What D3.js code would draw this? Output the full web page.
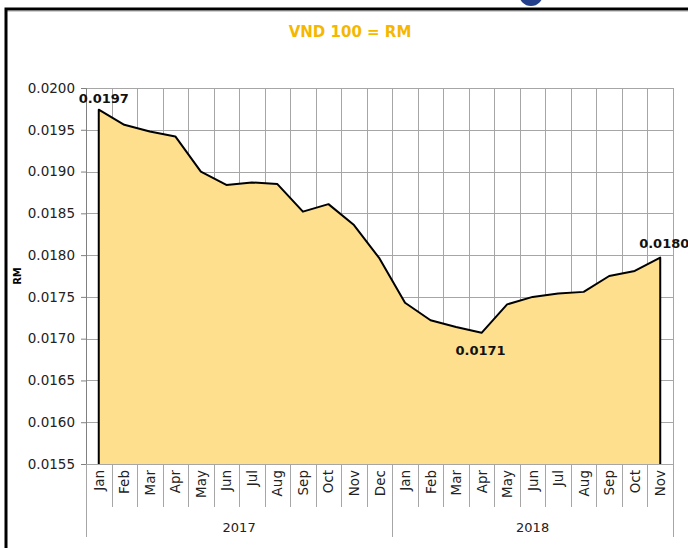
<!DOCTYPE html>
<meta charset="utf-8">
<style>
  body { margin: 0; background: #fff; }
  svg text { font-family: "DejaVu Sans", sans-serif; }
  .grid line { stroke: #a6a6a6; stroke-width: 1; shape-rendering: crispEdges; }
</style>
<body>
<div id="chart"></div>
<script src="https://d3js.org/d3.v7.min.js"></script>
<script>
// months per year and the rate (RM per VND 100)
var years = ["2017", "2018"];
var months2017 = ["Jan","Feb","Mar","Apr","May","Jun","Jul","Aug","Sep","Oct","Nov","Dec"];
var months2018 = ["Jan","Feb","Mar","Apr","May","Jun","Jul","Aug","Sep","Oct","Nov"];
var values = [0.01974, 0.01956, 0.01948, 0.01942, 0.01900, 0.01884, 0.01887, 0.01885, 0.01852, 0.01861, 0.01836, 0.01796,
              0.01743, 0.01722, 0.01714, 0.01707, 0.01741, 0.01750, 0.01754, 0.01756, 0.01775, 0.01781, 0.01797];
var yTicks = [0.0155, 0.0160, 0.0165, 0.0170, 0.0175, 0.0180, 0.0185, 0.0190, 0.0195, 0.0200];
var labelled = [0, 15, 22]; // indexes that get a value label

var width = 688, height = 548;
var pLeft = 86, pRight = 673, pTop = 88, pBottom = 464;

var cats = months2017.map(function(m) { return "2017-" + m; })
  .concat(months2018.map(function(m) { return "2018-" + m; }));
var data = cats.map(function(c, i) { return { key: c, month: c.slice(5), year: c.slice(0, 4), v: values[i] }; });

var svg = d3.select("#chart").append("svg")
    .attr("width", width)
    .attr("height", height);

// frame + logo ring peeking in at the top
svg.append("circle").attr("cx", 531).attr("cy", -6).attr("r", 12).attr("fill", "#233f8c");
svg.append("circle").attr("cx", 531).attr("cy", -8).attr("r", 5).attr("fill", "#fff");
svg.append("line").attr("x1", 6).attr("x2", 688).attr("y1", 11.5).attr("y2", 11.5)
    .attr("stroke", "#d0d0d0");
svg.append("path")
    .attr("d", "M6,548 V9 H688")
    .attr("fill", "none")
    .attr("stroke", "#000")
    .attr("stroke-width", 3);

var x = d3.scaleBand().domain(cats).range([pLeft, pRight]);
var y = d3.scaleLinear().domain([0.0155, 0.0200]).range([pBottom, pTop]);

// grid
var grid = svg.append("g").attr("class", "grid");
grid.selectAll(".h").data(yTicks).enter().append("line")
    .attr("x1", pLeft).attr("x2", pRight)
    .attr("y1", function(d) { return Math.round(y(d)) + 0.5; })
    .attr("y2", function(d) { return Math.round(y(d)) + 0.5; });
grid.selectAll(".v").data(cats).enter().append("line")
    .attr("x1", function(d) { return Math.round(x(d) + x.bandwidth()) + 0.5; })
    .attr("x2", function(d) { return Math.round(x(d) + x.bandwidth()) + 0.5; })
    .attr("y1", pTop).attr("y2", pBottom);

// area
var cx = function(d) { return x(d.key) + x.bandwidth() / 2; };
var area = d3.area().x(cx).y0(y(0.0155)).y1(function(d) { return y(d.v); });
var line = d3.line().x(cx).y(function(d) { return y(d.v); });

svg.append("path").datum(data)
    .attr("d", area)
    .attr("fill", "#fddf8e");

var first = data[0], last = data[data.length - 1];
svg.append("path")
    .attr("d", "M" + cx(first) + "," + y(0.0155) + line(data).replace("M", "L") + "L" + cx(last) + "," + y(0.0155))
    .attr("fill", "none")
    .attr("stroke", "#000")
    .attr("stroke-width", 2)
    .attr("stroke-linejoin", "round");

// y axis
var yAxis = svg.append("g")
    .attr("transform", "translate(" + pLeft + ",0)")
    .call(d3.axisLeft(y).tickValues(yTicks).tickSize(5).tickPadding(6).tickFormat(d3.format(".4f")));
yAxis.select(".domain").attr("stroke", "#808080");
yAxis.selectAll(".tick line").attr("stroke", "#808080");
yAxis.selectAll("text").attr("font-size", 13.5).attr("fill", "#222").attr("font-family", "DejaVu Sans");

svg.append("text")
    .attr("transform", "translate(21,276) rotate(-90)")
    .attr("text-anchor", "middle")
    .attr("font-size", 10)
    .attr("font-weight", "bold")
    .text("RM");

// x axis: months
var xg = svg.append("g").attr("class", "grid");
xg.append("line").attr("x1", pLeft).attr("x2", pRight)
    .attr("y1", pBottom + 0.5).attr("y2", pBottom + 0.5);
xg.selectAll(".mt").data(cats.slice(0, -1)).enter().append("line")
    .attr("x1", function(d) { return Math.round(x(d) + x.bandwidth()) + 0.5; })
    .attr("x2", function(d) { return Math.round(x(d) + x.bandwidth()) + 0.5; })
    .attr("y1", pBottom).attr("y2", 507);

svg.selectAll(".month").data(data).enter().append("text")
    .attr("transform", function(d) { return "translate(" + (cx(d) + 5) + ",470) rotate(-90)"; })
    .attr("text-anchor", "end")
    .attr("font-size", 13.5)
    .attr("fill", "#222")
    .text(function(d) { return d.month; });

// year groups
var yearBounds = years.map(function(yr) {
  var ks = cats.filter(function(c) { return c.slice(0, 4) === yr; });
  return { year: yr, x0: x(ks[0]), x1: x(ks[ks.length - 1]) + x.bandwidth() };
});
var edges = [pLeft, yearBounds[0].x1, pRight];
xg.selectAll(".yt").data(edges).enter().append("line")
    .attr("x1", function(d) { return Math.round(d) + 0.5; })
    .attr("x2", function(d) { return Math.round(d) + 0.5; })
    .attr("y1", pBottom).attr("y2", 537);
svg.selectAll(".year").data(yearBounds).enter().append("text")
    .attr("x", function(d) { return (d.x0 + d.x1) / 2; })
    .attr("y", 532)
    .attr("text-anchor", "middle")
    .attr("font-size", 13)
    .attr("fill", "#222")
    .text(function(d) { return d.year; });

// value labels
var offs = { 0: [5, -7], 15: [-1, 22], 22: [4, -10] };
svg.selectAll(".vl").data(labelled).enter().append("text")
    .attr("x", function(i) { return cx(data[i]) + offs[i][0]; })
    .attr("y", function(i) { return y(data[i].v) + offs[i][1]; })
    .attr("text-anchor", "middle")
    .attr("font-size", 13)
    .attr("font-weight", "bold")
    .attr("fill", "#111")
    .text(function(i) { return data[i].v.toFixed(4); });

// title
svg.append("text")
    .attr("x", 350).attr("y", 37)
    .attr("text-anchor", "middle")
    .attr("font-size", 15)
    .attr("font-weight", "bold")
    .attr("fill", "#f5b700")
    .text("VND 100 = RM");
</script>
</body>
